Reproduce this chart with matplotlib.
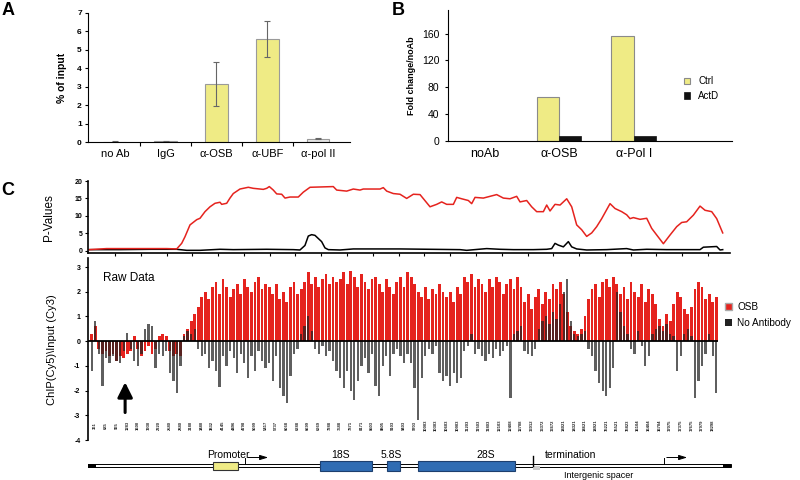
import matplotlib
matplotlib.use('Agg')
import matplotlib.pyplot as plt
from matplotlib.patches import Rectangle, Patch
import numpy as np

plt.rcParams['font.family'] = ['Liberation Sans', 'DejaVu Sans']

# ---- panel A: ChIP, % of input
a_labels = ['no Ab', 'IgG', 'α-OSB', 'α-UBF', 'α-pol II']
a_values = [0.03, 0.06, 3.15, 5.6, 0.2]
a_errors = [0.02, 0.02, 1.2, 0.97, 0.04]

# ---- panel B: fold change / noAb
b_labels = ['noAb', 'α-OSB', 'α-Pol I']
b_ctrl = [0.6, 66, 157]
b_actd = [0.5, 8, 7.5]

# ---- panel C, top: P-values along the rDNA repeat
pv_ticks = [750, 1500, 2250, 3000, 3750, 4500, 5250, 6000, 6750, 7500, 8250, 9000,
            9750, 10500, 11250, 12000, 12750, 13500, 14250, 15000, 15750, 16500, 17250, 18000]
osb_pos = [0, 508, 2254, 2545, 2690, 2786, 2932, 3127, 3223, 3368,
           3514, 3659, 3804, 3854, 3999, 4095, 4191, 4386, 4628, 4773,
           5064, 5163, 5239, 5355, 5454, 5599, 5695, 5841, 6082, 6228,
           6423, 7100, 7199, 7490, 7682, 7877, 7973, 8459, 8555, 8654,
           8846, 9041, 9235, 9429, 9623, 9914, 10108, 10253, 10399, 10593,
           10690, 10835, 11029, 11126, 11223, 11465, 11659, 11853, 12047, 12241,
           12435, 12532, 12726, 12871, 13017, 13211, 13308, 13405, 13550, 13696,
           13890, 14035, 14180, 14326, 14471, 14617, 14762, 14908, 15150, 15296,
           15490, 15635, 15732, 15829, 16023, 16217, 16362, 16508, 16702, 16896,
           17090, 17235, 17380, 17574, 17768, 17914, 18108, 18253, 18428]
osb_pval = [0.3, 0.6, 0.6, 0.5, 2.1, 4.0, 7.4, 8.9, 9.3, 11.2,
            12.6, 13.6, 13.9, 13.3, 13.6, 15.1, 16.4, 17.7, 18.2, 17.9,
            17.6, 17.9, 18.4, 17.4, 16.3, 16.2, 15.1, 15.4, 15.4, 16.8,
            18.2, 18.4, 17.4, 17.1, 17.7, 17.4, 17.7, 17.7, 18.1, 17.1,
            16.4, 16.2, 15.0, 16.2, 16.1, 12.6, 13.3, 14.0, 13.3, 13.3,
            15.3, 14.9, 14.4, 13.5, 15.3, 15.1, 15.6, 16.1, 15.1, 14.9,
            15.6, 14.0, 14.4, 12.6, 11.2, 11.2, 13.1, 11.4, 13.3, 13.1,
            14.9, 12.6, 7.4, 6.0, 4.1, 5.1, 6.9, 9.2, 13.5, 12.1,
            11.2, 10.3, 9.2, 9.5, 9.0, 9.3, 6.4, 4.5, 2.0, 4.5,
            6.9, 8.1, 8.3, 10.2, 12.8, 11.6, 11.2, 9.2, 5.1]
noab_pos = [0, 900, 1800, 2545, 2836, 3223, 3804, 4191, 5163, 5938,
            6131, 6276, 6373, 6470, 6567, 6664, 6761, 6858, 6955, 7295,
            7682, 9041, 10786, 10980, 11562, 11950, 12338, 12920, 13308, 13453,
            13550, 13647, 13793, 13938, 14035, 14180, 14471, 15053, 15635, 15829,
            16217, 16799, 17768, 17865, 18253, 18350, 18428]
noab_pval = [0.3, 0.3, 0.4, 0.4, 0.1, 0.1, 0.4, 0.3, 0.4, 0.3,
             0.2, 1.5, 4.2, 4.6, 4.4, 3.5, 2.6, 0.8, 0.3, 0.2,
             0.5, 0.5, 0.3, 0.1, 0.6, 0.4, 0.3, 0.3, 0.4, 0.6,
             2.1, 1.6, 1.1, 2.6, 1.1, 0.5, 0.2, 0.3, 0.6, 0.2,
             0.4, 0.3, 0.3, 1.0, 1.2, 0.2, 0.3]

# ---- panel C, bottom: raw log ratios per probe
raw_osb = [0.3, 0.6, -0.3, -0.5, -0.4, -0.6, -0.5, -0.8, -0.6, -0.7,
           -0.5, -0.4, 0.2, -0.3, -0.6, -0.4, -0.2, -0.5, -0.3, 0.2,
           0.3, 0.2, -0.4, -0.6, -0.5, -0.6, 0.3, 0.5, 0.8, 1.1,
           1.4, 1.8, 2.0, 1.7, 2.2, 2.4, 1.9, 2.5, 2.2, 1.8,
           2.1, 2.3, 1.9, 2.5, 2.2, 2.0, 2.4, 2.6, 2.1, 2.3,
           2.2, 1.9, 2.3, 1.7, 2.0, 1.6, 2.2, 2.4, 1.9, 2.1,
           2.4, 2.8, 2.3, 2.6, 2.2, 2.5, 2.7, 2.3, 2.6, 2.4,
           2.5, 2.8, 2.3, 2.85, 2.6, 2.2, 2.7, 2.4, 2.1, 2.5,
           2.6, 2.3, 2.0, 2.5, 2.2, 1.9, 2.4, 2.6, 2.2, 2.8,
           2.6, 2.3, 2.0, 1.8, 2.2, 1.7, 2.1, 1.9, 2.3, 2.0,
           1.8, 2.0, 1.6, 2.2, 1.9, 2.6, 2.4, 2.7, 2.2, 2.5,
           2.3, 2.0, 2.5, 2.2, 2.6, 2.4, 1.9, 2.3, 2.5, 2.1,
           2.6, 2.2, 1.6, 1.9, 1.3, 1.8, 2.1, 1.5, 2.0, 1.7,
           2.3, 2.1, 2.4, 1.9, 1.2, 0.6, 0.4, 0.3, 0.5, 1.0,
           1.7, 2.1, 2.3, 1.8, 2.4, 2.5, 2.2, 2.6, 2.3, 1.9,
           2.2, 1.7, 2.4, 2.0, 1.8, 2.3, 1.6, 2.1, 1.9, 1.5,
           0.9, 0.6, 1.1, 0.8, 1.5, 2.0, 1.8, 1.3, 1.1, 1.4,
           2.1, 2.4, 2.2, 1.7, 1.9, 1.6, 1.8]
raw_noab = [-1.2, 0.8, -0.5, -1.8, -0.7, -0.9, -0.6, -0.8, -0.9, -0.4,
            0.35, -0.3, -0.8, -1.0, -0.5, 0.5, 0.7, 0.6, -1.1, -0.5,
            -0.6, -0.4, -1.3, -1.6, -2.1, -1.0, 0.2, 0.4, 0.3, 0.5,
            -0.3, -0.6, -0.5, -1.1, -0.8, -1.2, -1.85, -0.6, -1.0, -0.4,
            -0.7, -1.3, -0.5, -0.9, -1.5, -0.6, -1.2, -0.4, -0.8, -1.1,
            -0.9, -1.6, -0.6, -1.9, -2.2, -2.5, -1.4, -0.5, -0.3, 0.3,
            0.6, 1.0, 0.4, -0.3, -0.5, -0.2, -0.6, -0.4, -0.8, -1.2,
            -1.5, -1.9, -1.2, -2.0, -2.4, -1.6, -1.0, -0.7, -1.3, -0.5,
            -1.8, -2.2, -1.0, -0.6, -1.4, -0.5, -0.3, -0.6, -0.9, -0.5,
            -0.9, -1.9, -3.2, -1.5, -0.6, -0.3, -0.5, -0.2, -1.3, -1.6,
            -1.4, -1.8, -1.3, -1.7, -1.5, -0.4, -0.2, 0.3, -0.5, -0.3,
            -0.6, -0.8, -0.5, -0.7, -0.3, -0.6, -0.4, -0.2, -2.3, 0.3,
            0.4, 0.6, -0.4, -0.5, -0.6, -0.3, 0.5, 0.8, 1.0, 0.7,
            1.2, 0.9, 1.5, 2.0, 2.5, 0.8, 0.3, 0.2, 0.3, 0.4,
            -0.3, -0.6, -1.2, -1.7, -2.0, -2.2, -1.9, -1.1, 2.0, 1.2,
            0.6, 0.3, -0.3, -0.5, 0.4, -0.2, -1.0, -0.6, 0.3, 0.5,
            0.6, 0.4, 0.7, 0.3, 0.2, -1.2, -0.6, 0.3, 0.5, 0.2,
            -2.3, -1.6, -1.0, -0.5, 0.3, -0.6, -2.1]
raw_tick_labels = [361, 685, 965, 1283, 1600, 1930, 2220, 2580, 2880, 3180,
                   3480, 3832, 4145, 4496, 4798, 5099, 5417, 5737, 6068, 6388,
                   6699, 6969, 7288, 7588, 7871, 8171, 8503, 8805, 9103, 9403,
                   9703, 10003, 10303, 10603, 10903, 11203, 11503, 11803, 12103, 12408,
                   12708, 13012, 13372, 13672, 14021, 14321, 14621, 14921, 15221, 15521,
                   15823, 16104, 16404, 16704, 17075, 17375, 17675, 17979, 18298]

# ---- rDNA repeat map (drawn in pixel units of the figure)
map_features = [('Promoter', 213, 238), ('18S', 320, 372), ('5.8S', 387, 400), ('28S', 418, 515)]

YELLOW = '#efeb85'
RED = '#e5231e'
BLUE = '#2f6cb3'

fig = plt.figure(figsize=(8, 4.8), dpi=100)

# ================= A
axA = fig.add_axes([0.11, 0.7035, 0.3275, 0.27])
xa = np.arange(len(a_labels))
axA.bar(xa, a_values, width=0.45, color=['#dcdcdc', '#dcdcdc', YELLOW, YELLOW, '#e8e8e8'],
        edgecolor='#9a9a9a', linewidth=0.8, yerr=a_errors, capsize=2.5,
        error_kw=dict(ecolor='#666666', elinewidth=0.8, capthick=0.8))
axA.set_xlim(-0.53, 4.63)
axA.set_ylim(0, 7)
axA.set_yticks(range(8))
axA.set_yticklabels([str(v) for v in range(8)], fontsize=6, fontweight='bold')
axA.set_xticks(xa)
axA.set_xticklabels(a_labels, fontsize=8)
axA.set_xticks([0.5, 1.5, 2.5, 3.5], minor=True)
axA.tick_params(axis='x', which='major', length=0, pad=5)
axA.tick_params(axis='x', which='minor', length=3, width=0.8, direction='out')
axA.tick_params(axis='y', length=2.5, width=0.8, pad=2)
axA.spines['top'].set_visible(False)
axA.spines['right'].set_visible(False)
axA.set_ylabel('% of input', fontsize=7.5, fontweight='bold', labelpad=7)
fig.text(0.002, 0.995, 'A', fontsize=13, fontweight='bold', va='top')

# ================= B
axB = fig.add_axes([0.5596, 0.7063, 0.355, 0.2727])
xb = np.arange(len(b_labels))
axB.bar(xb - 0.15, b_ctrl, width=0.3, color=YELLOW, edgecolor='#8a8a8a', linewidth=0.8, label='Ctrl')
axB.bar(xb + 0.15, b_actd, width=0.3, color='#111111', edgecolor='#111111', linewidth=0.5, label='ActD')
axB.set_xlim(-0.49, 3.31)
axB.set_ylim(0, 195)
axB.set_yticks([0, 40, 80, 120, 160])
axB.tick_params(axis='y', labelsize=7.5, length=2.5, width=0.8)
axB.set_xticks(xb)
axB.set_xticklabels(b_labels, fontsize=9)
axB.tick_params(axis='x', length=0, pad=5)
axB.spines['top'].set_visible(False)
axB.spines['right'].set_visible(False)
axB.set_ylabel('Fold change/noAb', fontsize=6.5, fontweight='bold', labelpad=4)
axB.legend(loc='upper left', bbox_to_anchor=(0.8, 0.56), frameon=False, fontsize=7,
           handlelength=0.7, handleheight=0.7, handletextpad=0.8, labelspacing=0.5)
fig.text(0.49, 0.995, 'B', fontsize=13, fontweight='bold', va='top')

# ================= C, P-values
axP = fig.add_axes([0.11, 0.4723, 0.8025, 0.1506])
axP.plot(noab_pos, noab_pval, color='black', lw=1.1)
axP.plot(osb_pos, osb_pval, color=RED, lw=1.1)
axP.set_xlim(-35, 18640)
axP.set_ylim(-0.75, 20)
axP.set_yticks([0, 5, 10, 15, 20])
axP.set_yticklabels(['0', '5', '10', '15', '20'], fontsize=5, fontweight='bold')
axP.set_xticks(pv_ticks)
axP.set_xticklabels([str(t) for t in pv_ticks], rotation=90, fontsize=3, fontweight='bold')
axP.tick_params(axis='x', length=2, width=0.8, pad=1)
axP.tick_params(axis='y', length=2, width=0.8, pad=2)
axP.spines['top'].set_visible(False)
axP.spines['right'].set_visible(False)
axP.spines['left'].set_linewidth(1.2)
axP.spines['bottom'].set_linewidth(1.2)
axP.set_ylabel('P-Values', fontsize=8.5, labelpad=14)
fig.text(0.002, 0.62, 'C', fontsize=13, fontweight='bold', va='top')

# ================= C, raw data
axR = fig.add_axes([0.11, 0.0833, 0.7875, 0.3784])
idx = np.arange(len(raw_osb))
axR.bar(idx, raw_osb, width=0.8, color=RED, linewidth=0, label='OSB')
axR.bar(idx, raw_noab, width=0.65, color='#222222', alpha=0.72, linewidth=0, label='No Antibody')
axR.axhline(0, color='black', lw=1.3)
axR.set_xlim(-1.06, 176.5)
axR.set_ylim(-4, 3.35)
axR.set_xticks([])
axR.set_yticks(range(-4, 4))
axR.set_yticklabels([str(v) for v in range(-4, 4)], fontsize=5, fontweight='bold')
axR.tick_params(axis='y', length=2.5, width=0.8, pad=3)
for s in ['top', 'right', 'bottom']:
    axR.spines[s].set_visible(False)
axR.spines['left'].set_linewidth(1.2)
for j, lab in enumerate(raw_tick_labels):
    axR.text(1 + 3 * j, -3.42, str(lab), rotation=90, fontsize=3, fontweight='bold',
             ha='center', va='center', color='#222222')
axR.text(3.2, 2.55, 'Raw Data', fontsize=8.5, va='center')
axR.annotate('', xy=(9.4, -1.55), xytext=(9.4, -3.0),
             arrowprops=dict(arrowstyle='-|>,head_width=0.45,head_length=0.9',
                             color='black', lw=2.2))
axR.set_ylabel('ChIP(Cy5)\\Input (Cy3)', fontsize=8, labelpad=12)
axR.legend(handles=[Patch(facecolor=RED, edgecolor='#aaaaaa', label='OSB'),
                    Patch(facecolor='#222222', label='No Antibody')],
           loc='upper left', bbox_to_anchor=(1.0, 0.8), frameon=False, fontsize=7.2,
           handlelength=0.7, handleheight=0.7, handletextpad=0.5, labelspacing=0.6,
           borderaxespad=0.3)

# ================= rDNA map
axM = fig.add_axes([0, 0, 1, 50 / 480])
axM.set_xlim(0, 800)
axM.set_ylim(480, 430)
axM.axis('off')
axM.add_patch(Rectangle((90, 464.3), 641, 3, facecolor='white', edgecolor='black', lw=0.7))
axM.add_patch(Rectangle((88, 464), 8, 3.6, facecolor='black'))
axM.add_patch(Rectangle((723, 464), 8, 3.6, facecolor='black'))
label_x = {'Promoter': 228, '18S': 341, '5.8S': 391, '28S': 486}
for name, x0, x1 in map_features:
    if name == 'Promoter':
        axM.add_patch(Rectangle((x0, 461.7), x1 - x0, 8.3, facecolor=YELLOW, edgecolor='#333333', lw=0.8))
    else:
        axM.add_patch(Rectangle((x0, 460.7), x1 - x0, 10, facecolor=BLUE, edgecolor='#1d3f6e', lw=0.8))
    axM.text(label_x[name], 455, name, fontsize=7.5, ha='center', va='center')
for xs in [245, 664]:
    axM.plot([xs, xs], [464, 457.5], color='black', lw=0.7)
    axM.annotate('', xy=(xs + 26, 457.5), xytext=(xs, 457.5),
                 arrowprops=dict(arrowstyle='-|>,head_width=0.15,head_length=0.5', color='black', lw=0.7))
axM.plot([533, 533], [456, 466], color='black', lw=1.0)
axM.add_patch(Rectangle((533, 466), 7, 4, facecolor='#cccccc', edgecolor='none'))
axM.text(545, 455, 'termination', fontsize=7.5, ha='left', va='center')
axM.text(564, 475, 'Intergenic spacer', fontsize=6.5, ha='left', va='center')

fig.savefig('out.png', dpi=100)
